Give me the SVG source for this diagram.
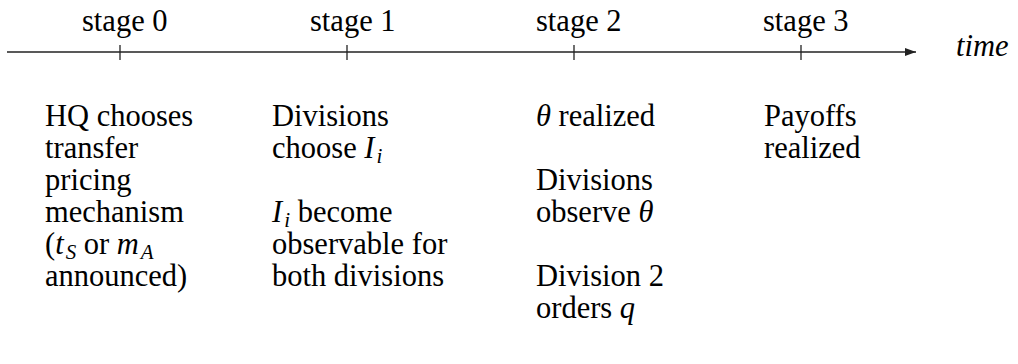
<svg xmlns="http://www.w3.org/2000/svg" width="1018" height="364" viewBox="0 0 1018 364">
<style>
text{font-family:"Liberation Serif","DejaVu Serif",serif;font-size:30.5px;fill:#000}
.m{font-style:italic}
.sub{font-size:21px;font-style:italic}
.axis{stroke:#222;stroke-width:1.3;fill:none}
.tick{stroke:#222;stroke-width:1.3}
</style>
<defs>
<marker id="arr" markerWidth="12" markerHeight="10" refX="11" refY="4" orient="auto" markerUnits="userSpaceOnUse">
<path d="M0,0 L11,4 L0,8 Z" fill="#222"/>
</marker>
</defs>
<g id="connectors">
<line class="axis" x1="7" y1="52" x2="916" y2="52" marker-end="url(#arr)"/>
<line class="tick" x1="120" y1="45" x2="120" y2="60"/>
<line class="tick" x1="347" y1="45" x2="347" y2="60"/>
<line class="tick" x1="574" y1="45" x2="574" y2="60"/>
<line class="tick" x1="801" y1="45" x2="801" y2="60"/>
</g>
<g id="time-label"><text x="956" y="56" class="m">time</text></g>
<g id="stage0">
<text x="82" y="31">stage 0</text>
<text x="45" y="126">HQ chooses</text>
<text x="45" y="158">transfer</text>
<text x="45" y="190">pricing</text>
<text x="45" y="222">mechanism</text>
<text x="45" y="254">(<tspan class="m">t</tspan><tspan class="sub" dx="2" baseline-shift="-5">S</tspan> or <tspan class="m">m</tspan><tspan class="sub" dx="2" baseline-shift="-5">A</tspan></text>
<text x="45" y="286">announced)</text>
</g>
<g id="stage1">
<text x="310" y="31">stage 1</text>
<text x="272" y="126">Divisions</text>
<text x="272" y="158">choose <tspan class="m">I</tspan><tspan class="sub" dx="2" baseline-shift="-5">i</tspan></text>
<text x="272" y="222"><tspan class="m">I</tspan><tspan class="sub" dx="2" baseline-shift="-5">i</tspan> become</text>
<text x="272" y="254">observable for</text>
<text x="272" y="286">both divisions</text>
</g>
<g id="stage2">
<text x="536" y="31">stage 2</text>
<text x="536" y="126"><tspan class="m">θ</tspan> realized</text>
<text x="536" y="190">Divisions</text>
<text x="536" y="222">observe <tspan class="m">θ</tspan></text>
<text x="536" y="286">Division 2</text>
<text x="536" y="318">orders <tspan class="m">q</tspan></text>
</g>
<g id="stage3">
<text x="763" y="31">stage 3</text>
<text x="764" y="126">Payoffs</text>
<text x="764" y="158">realized</text>
</g>
</svg>
